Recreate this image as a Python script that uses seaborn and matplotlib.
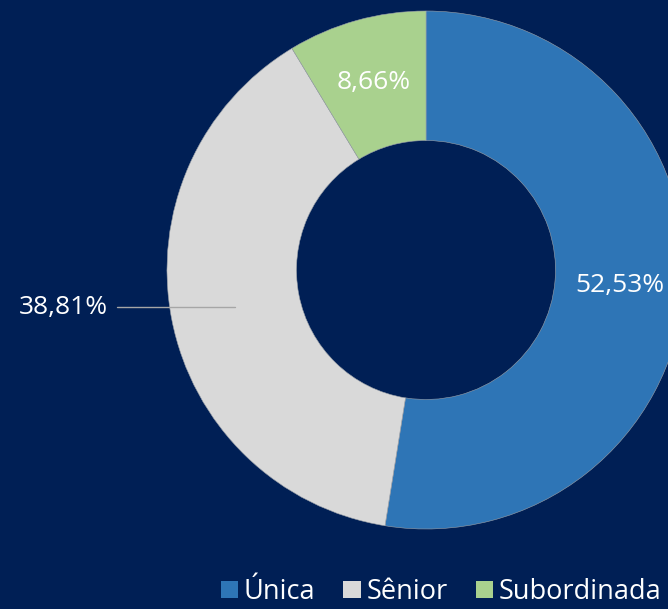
import numpy as np
import seaborn as sns
import matplotlib.pyplot as plt
from matplotlib.patches import Patch

# Data
categories = ['Única', 'Sênior', 'Subordinada']
shares = [52.53, 38.81, 8.66]
labels = ['52,53%', '38,81%', '8,66%']
colors = ['#2E75B6', '#D9D9D9', '#A9D18E']
bg = '#001F55'

sns.set_style('white')
plt.rcParams['font.family'] = ['Open Sans', 'DejaVu Sans']

fig = plt.figure(figsize=(6.68, 6.09), dpi=100, facecolor=bg)
ax = fig.add_axes([0, 0, 1, 1])
ax.set_facecolor(bg)

wedges, _ = ax.pie(shares, colors=colors, startangle=90, counterclock=False,
                   radius=1.0, wedgeprops=dict(width=0.5, edgecolor='#9aa0a8', linewidth=0.4))

# map pixels: center (426, 270), radius 259 px
ax.set_xlim(-426 / 259, (668 - 426) / 259)
ax.set_ylim(-(609 - 270) / 259, 270 / 259)
ax.set_aspect('auto')
ax.axis('off')

for w, lab in zip(wedges, labels):
    mid = np.deg2rad((w.theta1 + w.theta2) / 2)
    r = 0.75
    x, y = r * np.cos(mid), r * np.sin(mid)
    if lab == '38,81%':
        ax.plot([x, -309 / 259], [y, y], color='#A6A6A6', lw=1)
        ax.text(-318 / 259, y, lab, color='white', fontsize=19, ha='right', va='center')
    else:
        ax.text(x, y, lab, color='white', fontsize=19, ha='center', va='center')

handles = [Patch(facecolor=c, edgecolor='none') for c in colors]
leg = fig.legend(handles, categories, loc='lower right', bbox_to_anchor=(1.027, -0.035),
                 ncol=3, frameon=False, fontsize=19.5, labelcolor='white',
                 handlelength=0.63, handleheight=0.63, handletextpad=0.22,
                 columnspacing=1.04)

fig.savefig('out.png', dpi=100, facecolor=bg)
